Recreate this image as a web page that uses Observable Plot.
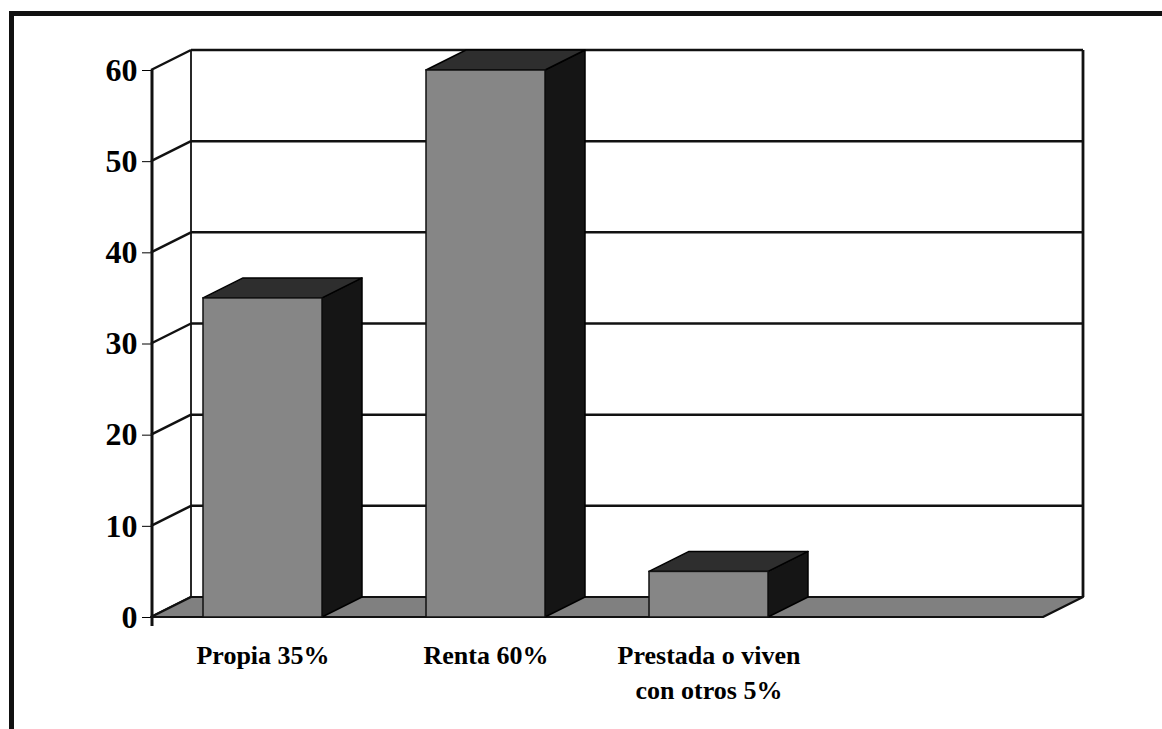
<!DOCTYPE html>
<html><head><meta charset="utf-8">
<script src="https://cdn.jsdelivr.net/npm/d3@7"></script>
<script src="https://cdn.jsdelivr.net/npm/@observablehq/plot@0.6"></script>
<style>
html,body{margin:0;padding:0;background:#fff;}
#wrap{position:relative;width:1162px;height:729px;overflow:hidden;}
#chart{position:absolute;left:0;top:0;}
#frame{position:absolute;left:9px;top:11px;right:-20px;bottom:-20px;border-top:5px solid #111;border-left:5px solid #111;pointer-events:none;}
</style></head><body>
<div id="wrap"><div id="chart"></div><div id="frame"></div></div>
<script>
// ---- data ----
const categories = ["Propia 35%", "Renta 60%", "Prestada o viven\ncon otros 5%"];
const values = [35, 60, 5];
const emptySlot = [" "];            // fourth (empty) category slot on the floor
const yTicks = [0, 10, 20, 30, 40, 50, 60];

// ---- style ----
const DX = 40, DY = -20;            // 3-D depth offset (px)
const INSET = 52;
const FONT = '"Liberation Serif","Times New Roman",Times,serif';
const NS = "http://www.w3.org/2000/svg";

const xDomain = categories.concat(emptySlot);
const rows = categories.map((c, i) => ({cat: c, value: values[i]}));

function el(tag, attrs) {
  const e = document.createElementNS(NS, tag);
  for (const k in attrs) e.setAttribute(k, attrs[k]);
  return e;
}
function poly(pts, fill, stroke, sw) {
  return el("polygon", {points: pts.map(p => p.join(",")).join(" "), fill, stroke: stroke || "none", "stroke-width": sw || 0, "stroke-linejoin": "round"});
}
function seg(x1, y1, x2, y2, sw) {
  return el("line", {x1, y1, x2, y2, stroke: "#111", "stroke-width": sw});
}
function bw(x) { return typeof x.bandwidth === "function" ? x.bandwidth() : x.bandwidth; }

// back wall, side wall, gridlines, floor
const wallMark = (index, scales) => {
  const {x, y} = scales;
  const g = el("g", {});
  const left = x(xDomain[0]);
  const right = x(xDomain[xDomain.length - 1]) + bw(x);
  const yMax = d3.max(yTicks), y0 = y(0);
  for (const t of yTicks) {
    const yy = y(t);
    if (t > 0) g.append(seg(left + DX, yy + DY, right + DX, yy + DY, 2.5));
    g.append(seg(left, yy, left + DX, yy + DY, 2.5));
  }
  g.append(seg(left + DX, y(yMax) + DY, left + DX, y0 + DY, 1.8));
  g.append(seg(right + DX, y(yMax) + DY, right + DX, y0 + DY, 2.8));
  g.append(poly([[left, y0], [right, y0], [right + DX, y0 + DY], [left + DX, y0 + DY]], "#808080", "#111", 2.2));
  // front axis line
  g.append(seg(left + 1, y(yMax), left + 1, y0 + 9, 3));
  return g;
};

// side and top faces of the bars
const depthMark = (index, scales) => {
  const {x, y} = scales;
  const g = el("g", {});
  const b = bw(x), y0 = y(0);
  rows.forEach(r => {
    const xl = x(r.cat) + INSET, xr = x(r.cat) + b - INSET, yt = y(r.value);
    g.append(poly([[xr, yt], [xr + DX, yt + DY], [xr + DX, y0 + DY], [xr, y0]], "#151515", "#000", 1.5));
    g.append(poly([[xl, yt], [xl + DX, yt + DY], [xr + DX, yt + DY], [xr, yt]], "#2e2e2e", "#000", 1.5));
  });
  return g;
};

const chart = Plot.plot({
  width: 1162,
  height: 729,
  marginLeft: 151,
  marginRight: 119,
  marginTop: 70,
  marginBottom: 112,
  style: {fontFamily: FONT, fontSize: "32px", fontWeight: "bold", color: "#000", background: "transparent", overflow: "visible"},
  x: {domain: xDomain, padding: 0, axis: null},
  y: {domain: [0, 60], ticks: yTicks, tickSize: 9, tickPadding: 5, label: null},
  marks: [
    wallMark,
    depthMark,
    Plot.barY(rows, {x: "cat", y: "value", fill: "#868686", stroke: "#111", strokeWidth: 1.5, insetLeft: INSET, insetRight: INSET}),
    Plot.text(rows, {x: "cat", y: () => 0, text: "cat", dy: 21, lineAnchor: "top", lineHeight: 1.36, fontSize: 26, fontWeight: "bold", fill: "#000"})
  ]
});
document.getElementById("chart").append(chart);
</script>
</body></html>
